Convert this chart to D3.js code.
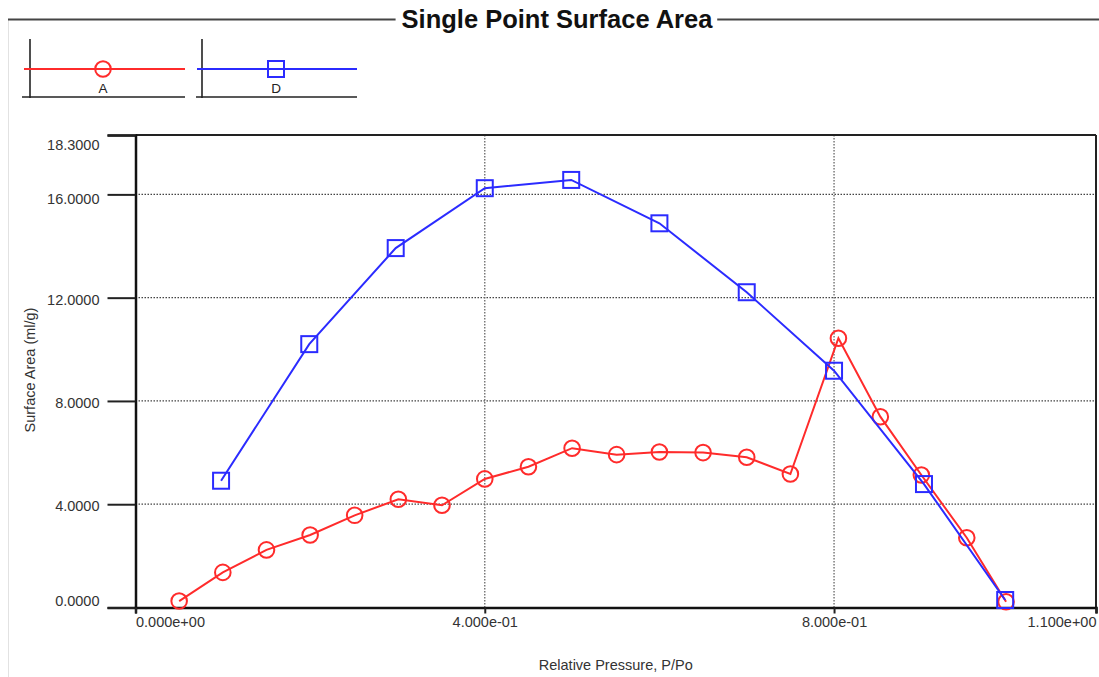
<!DOCTYPE html>
<html>
<head>
<meta charset="utf-8">
<script src="https://cdn.jsdelivr.net/npm/d3@7"></script>
<style>
  html, body { margin: 0; padding: 0; background: #fff; }
  svg { display: block; font-family: Arial, "Liberation Sans", sans-serif; }
</style>
</head>
<body>
<svg id="chart" width="1099" height="677"></svg>
<script>
// ---- data ----
const titleText = "Single Point Surface Area";
const xTitle = "Relative Pressure, P/Po";
const yTitle = "Surface Area (ml/g)";
const seriesNames = ["A", "D"];
const pressureA = [0.050, 0.100, 0.150, 0.200, 0.251, 0.301, 0.351, 0.400, 0.450, 0.500, 0.551, 0.600, 0.650, 0.700, 0.750, 0.805, 0.853, 0.900, 0.952, 0.997];
const areaA     = [0.25, 1.36, 2.23, 2.81, 3.57, 4.19, 3.96, 4.98, 5.45, 6.17, 5.92, 6.02, 6.00, 5.82, 5.17, 10.43, 7.39, 5.13, 2.70, 0.22];
const pressureD = [0.098, 0.199, 0.298, 0.400, 0.499, 0.600, 0.700, 0.800, 0.903, 0.996];
const areaD     = [4.91, 10.20, 13.92, 16.24, 16.56, 14.88, 12.21, 9.17, 4.78, 0.29];
const xTickValues = [0, 0.4, 0.8, 1.1];
const xTickLabels = ["0.000e+00", "4.000e-01", "8.000e-01", "1.100e+00"];
const yTickValues = [0, 4, 8, 12, 16, 18.3];
const yTickLabels = ["0.0000", "4.0000", "8.0000", "12.0000", "16.0000", "18.3000"];

// ---- layout ----
const W = 1099, H = 677;
const L = 135.5, R = 1096, T = 135, B = 607.5;
const RED = "#ff2b2b", BLUE = "#2b2bff";
const FS = 14.5;

const svg = d3.select("#chart");
const x = d3.scaleLinear().domain([0, 1.1]).range([L, R]);
const y = d3.scaleLinear().domain([0, 18.3]).range([B, T]);

// outer frame: faint left edge
svg.append("line").attr("x1", 8.5).attr("x2", 8.5).attr("y1", 20).attr("y2", H)
  .attr("stroke", "#e2e2e2").attr("stroke-width", 1);

// title with line
const title = svg.append("text").attr("x", 557).attr("y", 28)
  .attr("text-anchor", "middle").attr("font-size", 25.5).attr("font-weight", "bold")
  .attr("fill", "#111").text(titleText);
const tb = title.node().getBBox();
svg.append("line").attr("x1", 8).attr("x2", tb.x - 6).attr("y1", 19.5).attr("y2", 19.5)
  .attr("stroke", "#444").attr("stroke-width", 2);
svg.append("line").attr("x1", tb.x + tb.width + 4).attr("x2", W).attr("y1", 19.5).attr("y2", 19.5)
  .attr("stroke", "#444").attr("stroke-width", 2);

// gridlines
const grid = svg.append("g");
grid.selectAll("line.h").data(yTickValues.filter(v => v > 0 && v < 18.3)).enter().append("line")
  .attr("x1", L).attr("x2", R).attr("y1", d => y(d)).attr("y2", d => y(d))
  .attr("stroke", "#444").attr("stroke-width", 1.3).attr("stroke-dasharray", "1.5,1.5");
grid.selectAll("line.v").data(xTickValues.filter(v => v > 0 && v < 1.1)).enter().append("line")
  .attr("x1", d => x(d)).attr("x2", d => x(d)).attr("y1", T).attr("y2", B)
  .attr("stroke", "#666").attr("stroke-width", 1.3).attr("stroke-dasharray", "1.5,1.5");

// frame top and right
svg.append("line").attr("x1", L).attr("x2", R).attr("y1", T).attr("y2", T).attr("stroke", "#222").attr("stroke-width", 2);
svg.append("line").attr("x1", R).attr("x2", R).attr("y1", T).attr("y2", B).attr("stroke", "#222").attr("stroke-width", 2);

// y axis
const yAxis = d3.axisLeft(y).tickValues(yTickValues).tickSize(28).tickPadding(8)
  .tickFormat((d, i) => yTickLabels[i]);
const gy = svg.append("g").attr("transform", `translate(${L},0)`).call(yAxis);
gy.select(".domain").attr("stroke", "#111").attr("stroke-width", 2.5);
gy.selectAll(".tick line").attr("stroke", "#222").attr("stroke-width", 2);
gy.selectAll(".tick text").attr("font-size", FS).attr("fill", "#333")
  .attr("font-family", "Arial, 'Liberation Sans', sans-serif")
  .attr("dy", (d, i) => i === 0 ? "-0.15em" : (i === yTickValues.length - 1 ? "1.0em" : (d === 16 ? "0.6em" : "0.45em")));

// x axis
const xAxis = d3.axisBottom(x).tickValues(xTickValues).tickSize(6).tickPadding(3)
  .tickFormat((d, i) => xTickLabels[i]);
const gx = svg.append("g").attr("transform", `translate(0,${B})`).call(xAxis);
gx.select(".domain").attr("stroke", "#111").attr("stroke-width", 2.5);
gx.selectAll(".tick line").attr("stroke", "#222").attr("stroke-width", 2);
gx.selectAll(".tick text").attr("font-size", FS).attr("fill", "#333")
  .attr("font-family", "Arial, 'Liberation Sans', sans-serif")
  .attr("text-anchor", (d, i) => i === 0 ? "start" : (i === xTickValues.length - 1 ? "end" : "middle"));

// axis titles
svg.append("text").attr("x", (L + R) / 2).attr("y", 670).attr("text-anchor", "middle")
  .attr("font-size", FS).attr("fill", "#333").text(xTitle);
svg.append("text").attr("transform", `translate(35,370) rotate(-90)`).attr("text-anchor", "middle")
  .attr("font-size", FS).attr("fill", "#333").text(yTitle);

// series
const line = d3.line().x(d => x(d[0])).y(d => y(d[1]));
const dataA = pressureA.map((p, i) => [p, areaA[i]]);
const dataD = pressureD.map((p, i) => [p, areaD[i]]);

svg.append("path").datum(dataA).attr("d", line).attr("fill", "none").attr("stroke", RED).attr("stroke-width", 2);
svg.selectAll("circle.a").data(dataA).enter().append("circle")
  .attr("cx", d => x(d[0])).attr("cy", d => y(d[1])).attr("r", 7.8)
  .attr("fill", "none").attr("stroke", RED).attr("stroke-width", 2);

svg.append("path").datum(dataD).attr("d", line).attr("fill", "none").attr("stroke", BLUE).attr("stroke-width", 2);
svg.selectAll("rect.d").data(dataD).enter().append("rect")
  .attr("x", d => x(d[0]) - 8).attr("y", d => y(d[1]) - 8).attr("width", 16).attr("height", 16)
  .attr("fill", "none").attr("stroke", BLUE).attr("stroke-width", 2);

// legend
const legendItems = [
  { name: seriesNames[0], color: RED, shape: "circle", vx: 30, x0: 22, x1: 185, lx0: 24, mx: 103 },
  { name: seriesNames[1], color: BLUE, shape: "square", vx: 202, x0: 196, x1: 357, lx0: 197, mx: 276 }
];
const lg = svg.append("g");
legendItems.forEach(it => {
  lg.append("line").attr("x1", it.vx).attr("x2", it.vx).attr("y1", 39).attr("y2", 98).attr("stroke", "#222").attr("stroke-width", 1.6);
  lg.append("line").attr("x1", it.x0).attr("x2", it.x1).attr("y1", 97).attr("y2", 97).attr("stroke", "#222").attr("stroke-width", 1.6);
  lg.append("line").attr("x1", it.lx0).attr("x2", it.x1).attr("y1", 69).attr("y2", 69).attr("stroke", it.color).attr("stroke-width", 2);
  if (it.shape === "circle") {
    lg.append("circle").attr("cx", it.mx).attr("cy", 69).attr("r", 7.8).attr("fill", "none").attr("stroke", it.color).attr("stroke-width", 2);
  } else {
    lg.append("rect").attr("x", it.mx - 8).attr("y", 61).attr("width", 16).attr("height", 16).attr("fill", "none").attr("stroke", it.color).attr("stroke-width", 2);
  }
  lg.append("text").attr("x", it.mx).attr("y", 93).attr("text-anchor", "middle").attr("font-size", 13.5).attr("fill", "#222").text(it.name);
});
</script>
</body>
</html>
